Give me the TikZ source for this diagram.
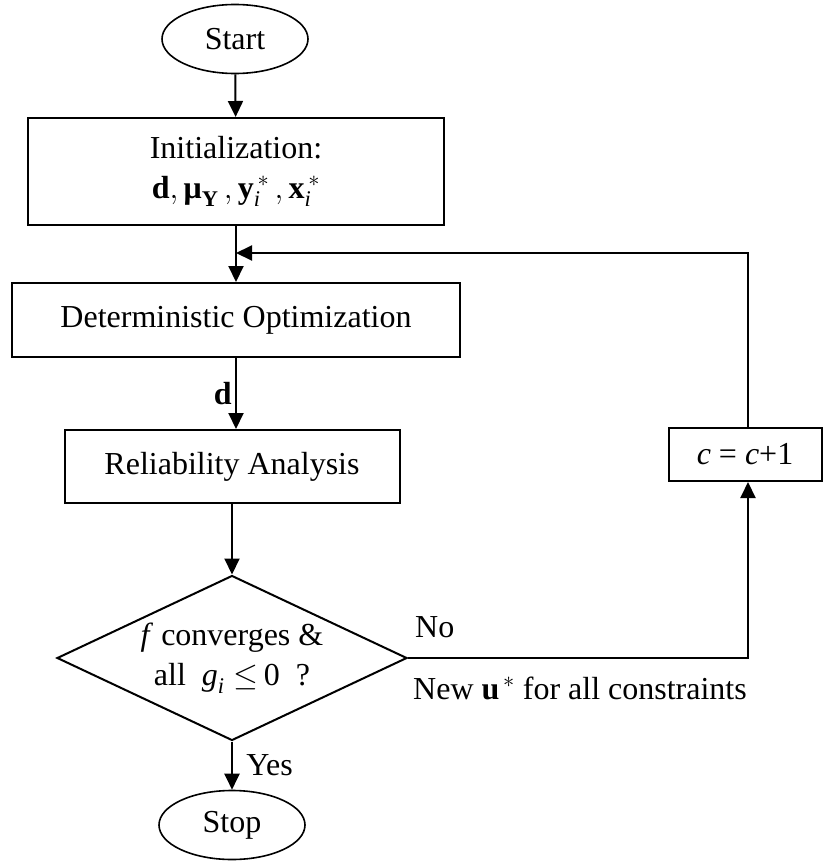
\RequirePackage{fix-cm}
\documentclass[tikz,border=0pt]{standalone}
\usepackage{amsmath}
\usepackage{fontspec}
\setmainfont{Liberation Serif}
\usetikzlibrary{positioning}
\usetikzlibrary{shapes.geometric}
\usetikzlibrary{arrows.meta}

\begin{document}
\begin{tikzpicture}[x=1pt, y=-1pt,
		block/.style={
			draw,
			rectangle,
			line width=2pt,
			align=center,
			inner sep=0pt,
		},
		terminal/.style={
			draw,
			ellipse,
			line width=1.6pt,
			inner sep=0pt,
			minimum width=146pt,
			minimum height=69pt,
		},
		decision/.style={
			draw,
			diamond,
			line width=2pt,
			inner sep=0pt,
			minimum width=350pt,
			minimum height=165pt,
		},
		flow/.style={line width=2pt, -{Triangle[length=16pt, width=15pt]}},
		font=\fontsize{32}{40}\selectfont]
		\useasboundingbox (0,0) rectangle (822,862);
		
		\node[terminal] (start) at (235,39) {Start};
		\node[block, minimum width=416pt, minimum height=107pt] (init) at (236,171.5) {Initialization:\\ $\textbf{d},\textbf{μ}_{\textbf{Y}}\,,\textbf{y}^{\,*}_{\textit{i}}\,,\textbf{x}^{\,*}_{\textit{i}}$};
		\node[block, minimum width=448pt, minimum height=74pt] (det) at (236,320) {Deterministic Optimization};
		\node[block, minimum width=335pt, minimum height=73pt] (rel) at (232,466.5) {Reliability Analysis};
		\node[decision, label={[align=center]center:{\textit{f} converges \&\\ all~ $\textit{g}_{\textit{i}}\leq$\,0 ~?}}] (dec) at (232,658) {};
		\node[terminal] (stop) at (232,825) {Stop};
		\node[block, minimum width=153pt, minimum height=53pt] (cinc) at (745,454.5) {\textit{c} = \textit{c}+1};
		
		\node[anchor=base west, inner sep=0pt] (no) at (415,637) {No};
		\node[anchor=base west, inner sep=0pt] (newu) at (413,699) {New \textbf{u}$^{\,*}$ for all constraints};
		
		\coordinate (turn) at (748,658);
		\coordinate (back) at (748,253);
		
		\draw[flow] (start) -- (init);
		\draw[flow] (init) -- (det);
		\draw[flow] (det) -- node[left]{\textbf{d}} (det.south |- rel.north);
		\draw[flow] (rel) -- (dec);
		\draw[flow] (dec) -- node[right=10pt]{Yes} (stop);
		
		\draw[flow] (dec.east) -- (turn) -- (turn |- cinc.south);
		\draw[flow] (back |- cinc.north) -- (back) -- (back -| init.south);
	\end{tikzpicture}
\end{document}
